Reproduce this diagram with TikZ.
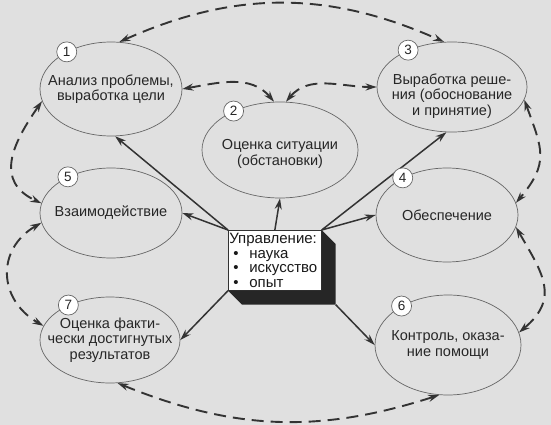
\documentclass[tikz,border=0pt]{standalone}
\usepackage{fontspec}
\setmainfont{Liberation Sans}
\usetikzlibrary{shapes.geometric,arrows.meta}
\newcommand\punkt[1]{\makebox[20pt][l]{\hspace{4pt}•}#1}

\begin{document}
\begin{tikzpicture}[x=1pt,y=-1pt,>={Stealth[length=11pt,width=7pt]},
	ell/.style={ellipse,draw=black!60,line width=0.7pt,inner sep=0pt},
	txt/.style={align=center,text=black!85,font=\fontsize{14.5}{15.5}\selectfont},
	num/.style={circle,draw=black!60,fill=white,line width=0.7pt,inner sep=0pt,minimum size=20pt,text=black!85,font=\fontsize{13.5}{13.5}\selectfont},
	box/.style={draw=black!80,fill=white,line width=0.7pt,align=left,text width=91pt,inner xsep=1pt,inner ysep=1pt,minimum height=60pt,text=black!90,font=\fontsize{15}{14.5}\selectfont},
	link/.style={<->,line width=1.9pt,dash pattern=on 12pt off 7pt,black!80},
	ctrl/.style={->,line width=1.5pt,black!80}]
	\fill[black!12] (0,0) rectangle (551,425);
	\useasboundingbox (0,0) rectangle (551,425);

	\node[ell,minimum width=142pt,minimum height=94pt] (e1) at (111,89) {};
	\node[ell,minimum width=156pt,minimum height=96pt] (e2) at (280,150) {};
	\node[ell,minimum width=150pt,minimum height=90pt] (e3) at (452,87) {};
	\node[ell,minimum width=142pt,minimum height=94pt] (e4) at (447,215) {};
	\node[ell,minimum width=142pt,minimum height=90pt] (e5) at (111,213) {};
	\node[ell,minimum width=146pt,minimum height=100pt] (e6) at (448,345) {};
	\node[ell,minimum width=140pt,minimum height=86pt] (e7) at (110,340) {};

	\node[txt] (t1) at (e1) {Анализ проблемы,\\выработка цели};
	\node[txt,yshift=-4pt] (t2) at (e2) {Оценка ситуации\\(обстановки)};
	\node[txt,yshift=-9pt] (t3) at (e3) {Выработка реше-\\ния (обоснование\\и принятие)};
	\node[txt] (t4) at (e4) {Обеспечение};
	\node[txt] (t5) at (e5) {Взаимодействие};
	\node[txt] (t6) at (e6) {Контроль, оказа-\\ние помощи};
	\node[txt] (t7) at (e7) {Оценка факти-\\чески достигнутых\\результатов};

	\node[box,anchor=north west] (upr) at (228,230) {Управление:\\\punkt{наука}\\\punkt{искусство}\\\punkt{опыт}};
	\coordinate (sh) at ([shift={(14pt,-14pt)}]upr.south east);
	\fill[black!85] (upr.north east) -- ++(14,14) -- (sh) -- ([shift={(14pt,-14pt)}]upr.south west) -- (upr.south west) -- (upr.south east) -- cycle;

	\draw[ctrl] (upr.north west) -- (e1.-85);
	\draw[ctrl] (upr.north west) -- (e5.east);
	\draw[ctrl] (upr.north) -- (e2.south);
	\draw[ctrl] (upr.north east) -- (e3.-97);
	\draw[ctrl] (upr.north east) -- (e4.west);
	\draw[ctrl] (upr.south west) -- (e7.east);
	\draw[ctrl] (sh) -- (e6.west);

	\draw[link] (e1.80) to[bend left=24] (e3.100);
	\draw[link] (e1.east) to[out=10,in=130] (e2.97);
	\draw[link] (e2.83) to[out=50,in=180] (e3.west);
	\draw[link] (e1.190) to[out=235,in=155,looseness=1.3] (e5.172);
	\draw[link] (e5.188) to[out=210,in=150,looseness=1.3] (e7.168);
	\draw[link] (e7.-80) to[bend right=20] (e6.-100);
	\draw[link] (e3.-10) to[out=-70,in=50,looseness=1.3] (e4.10);
	\draw[link] (e4.-10) to[out=-60,in=40,looseness=1.3] (e6.10);

	\node[num] (n1) at (e1.140) {1};
	\node[num] (n2) at (e2.140) {2};
	\node[num] (n3) at (e3.140) {3};
	\node[num] (n4) at (e4.140) {4};
	\node[num] (n5) at (e5.140) {5};
	\node[num] (n6) at (e6.140) {6};
	\node[num] (n7) at (e7.140) {7};
\end{tikzpicture}
\end{document}
